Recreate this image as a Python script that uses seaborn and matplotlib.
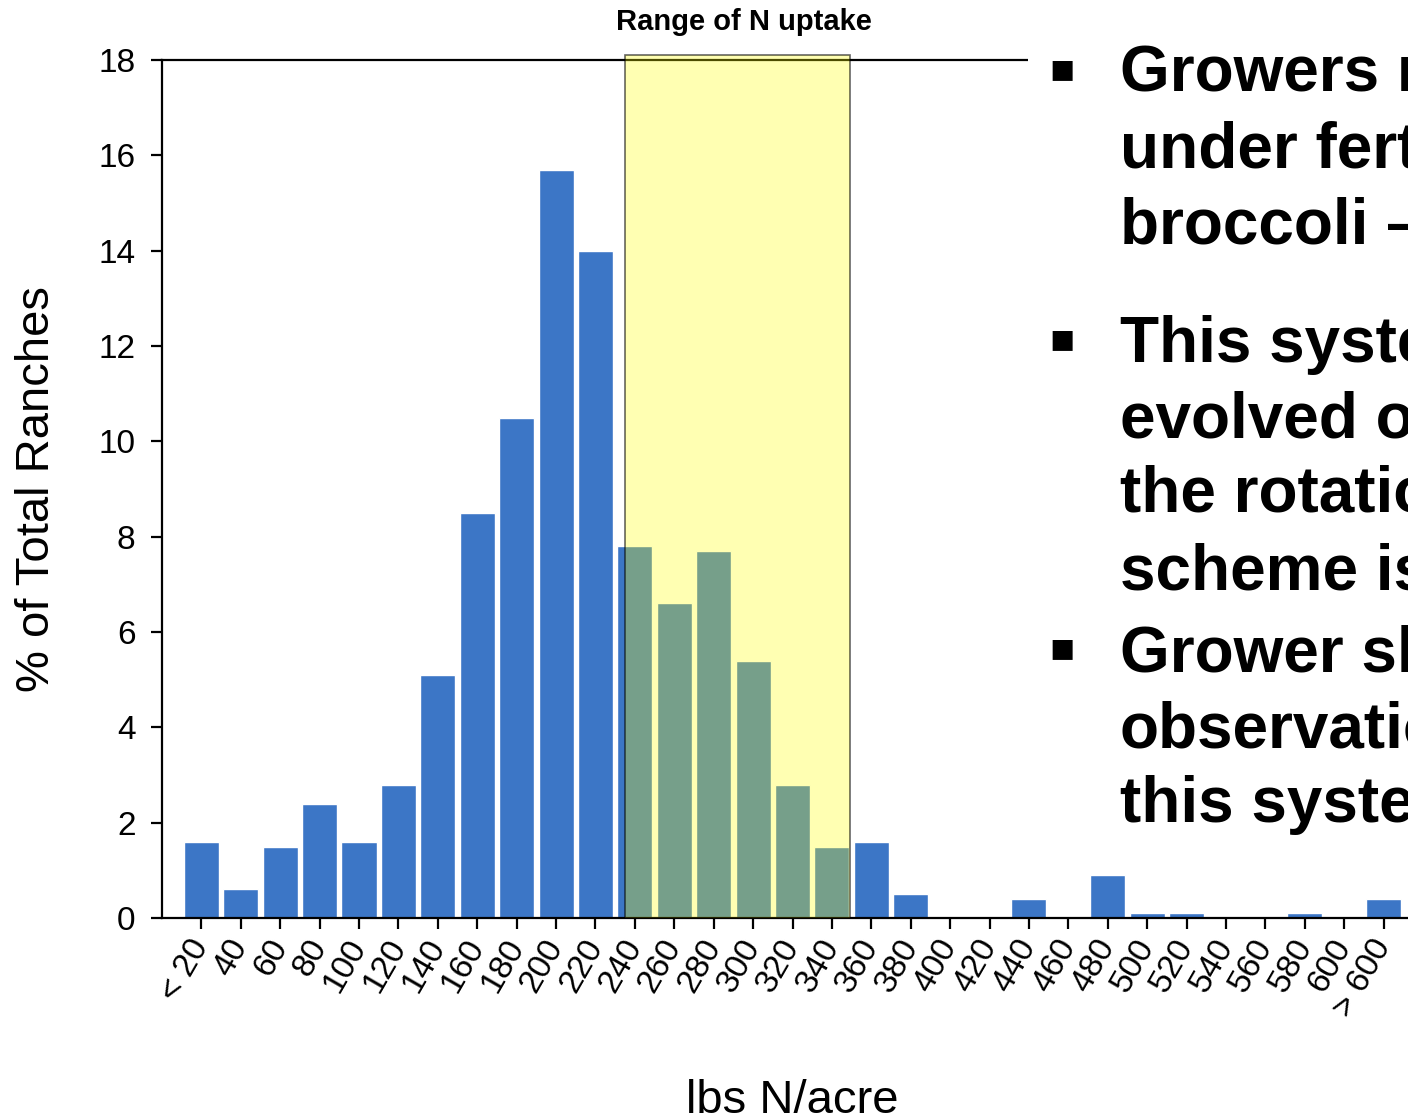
import matplotlib
matplotlib.use("Agg")
import matplotlib.pyplot as plt
import seaborn as sns
from matplotlib.patches import Rectangle

# N application classes (lbs N/acre) and share of ranches in each class
categories = ["< 20", "40", "60", "80", "100", "120", "140", "160", "180", "200",
              "220", "240", "260", "280", "300", "320", "340", "360", "380", "400",
              "420", "440", "460", "480", "500", "520", "540", "560", "580", "600",
              "> 600"]
percent_ranches = [1.6, 0.6, 1.5, 2.4, 1.6, 2.8, 5.1, 8.5, 10.5, 15.7,
                   14.0, 7.8, 6.6, 7.7, 5.4, 2.8, 1.5, 1.6, 0.5, 0.0,
                   0.0, 0.4, 0.0, 0.9, 0.1, 0.1, 0.0, 0.0, 0.1, 0.0,
                   0.4]

# crop N uptake range, lbs N/acre
uptake_low, uptake_high = 235, 349
uptake_title = "Range of N uptake"

bullets = [
    ["Growers r", "under fert", "broccoli \u2013"],
    ["This syste", "evolved o", "the rotatio", "scheme is"],
    ["Grower sl", "observatio", "this syste"],
]
bullet_baselines = [[92, 168, 244], [362, 437, 512, 589], [672, 747, 822]]

BLUE = "#3C76C6"
W, H = 1408, 1117

sns.set_style("ticks")
plt.rcParams["font.family"] = ["Liberation Sans", "DejaVu Sans"]
plt.rcParams.update({"text.color": "black", "axes.labelcolor": "black",
                     "xtick.color": "black", "ytick.color": "black"})

fig = plt.figure(figsize=(W / 100, H / 100), dpi=100)
ax = fig.add_axes([162 / W, 199 / H, (1423 - 162) / W, 858 / H])

sns.barplot(x=categories, y=percent_ranches, color=BLUE, saturation=1,
            width=0.89, ax=ax)

ax.set_xlim(-1, 31)
ax.set_ylim(0, 18)
ax.set_yticks(range(0, 19, 2))

for side in ["left", "bottom", "top"]:
    ax.spines[side].set_linewidth(1.6)
    ax.spines[side].set_color("black")
ax.spines["right"].set_visible(False)

ax.tick_params(axis="both", direction="out", length=8, width=1.6,
               colors="black", labelsize=24)
ax.tick_params(axis="y", pad=11)
ax.tick_params(axis="x", pad=9)
for lab in ax.get_xticklabels():
    lab.set_rotation(60)
    lab.set_ha("right")
    lab.set_va("center")
    lab.set_rotation_mode("anchor")

ax.set_xlabel("lbs N/acre", fontsize=34)
ax.set_ylabel("% of Total Ranches", fontsize=34)
ax.xaxis.set_label_coords(0.5, -0.213)
ax.xaxis.label.set_va("center")
ax.yaxis.set_label_coords(-0.099, 0.5)
ax.yaxis.label.set_va("center")

# shaded band for the crop uptake range (category k sits at (k+1)*20 lbs)
x0 = uptake_low / 20 - 1
x1 = uptake_high / 20 - 1
band = Rectangle((x0, 0), x1 - x0, 18.1, facecolor=(1, 1, 0, 0.3),
                 edgecolor=(0, 0, 0, 0.6), linewidth=1.2, clip_on=False,
                 zorder=5)
ax.add_patch(band)
fig.text(744 / W, 1 - 30 / H, uptake_title, ha="center", va="baseline",
         fontsize=21, fontweight="bold")

# white text box with bullet points on the right
fig.add_artist(Rectangle((1028 / W, 1 - 845 / H), (W - 1028) / W, 805 / H,
                         transform=fig.transFigure, facecolor="white",
                         edgecolor="none", zorder=2))
bullet_centers = [69, 339, 648]
for lines, bases, yc in zip(bullets, bullet_baselines, bullet_centers):
    fig.text(1062 / W, 1 - yc / H, "\u25AA", ha="center", va="center",
             fontsize=29, family=["DejaVu Sans"], zorder=3)
    for line, b in zip(lines, bases):
        fig.text(1120 / W, 1 - b / H, line, ha="left", va="baseline",
                 fontsize=46, fontweight="bold", zorder=3)

fig.savefig("out.png", dpi=100)
